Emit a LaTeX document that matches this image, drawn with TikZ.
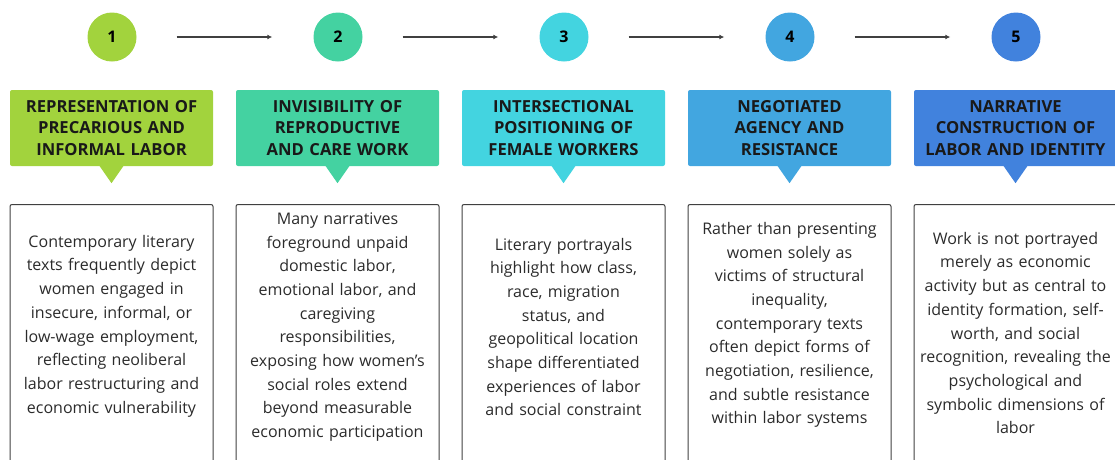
\documentclass[tikz,border=0pt]{standalone}
\usepackage{fontspec}
\setmainfont{Open Sans}
\usepackage{tikz}
\usetikzlibrary{arrows.meta}
\definecolor{stepA}{HTML}{A2D33D}
\definecolor{stepB}{HTML}{44D2A1}
\definecolor{stepC}{HTML}{43D4E0}
\definecolor{stepD}{HTML}{42A6E0}
\definecolor{stepE}{HTML}{4182DD}
\definecolor{inkgray}{HTML}{2B2B2B}
\tikzset{
  num/.style={circle, minimum size=49pt, inner sep=0pt, font=\fontsize{16}{18}\selectfont\bfseries, text=black},
  head/.style={rounded corners=2pt, minimum width=203pt, minimum height=76pt, inner sep=0pt,
    text width=203pt, align=center, text=black!90,
    font=\fontsize{16.6}{21.3}\selectfont\bfseries},
  card/.style={draw=black!75, line width=1pt, rounded corners=2pt, anchor=north,
    minimum width=203pt, minimum height=290pt, inner sep=0pt},
  body/.style={text width=203pt, align=center, inner sep=0pt, text=inkgray,
    font=\fontsize{16}{23.7}\selectfont},
  flow/.style={draw=black!75, line width=1.3pt, -{Latex[length=5pt,width=5pt]}}
}
\begin{document}
\begin{tikzpicture}[x=1pt,y=-1pt]
    \useasboundingbox (0,0) rectangle (1115,459);
    \clip (0,0) rectangle (1115,459);
    % numbered steps
    \node[num, fill=stepA] (n1) at (112,37) {1};
    \node[num, fill=stepB] (n2) at (338,37) {2};
    \node[num, fill=stepC] (n3) at (564,37) {3};
    \node[num, fill=stepD] (n4) at (790,37) {4};
    \node[num, fill=stepE] (n5) at (1016,37) {5};
    \draw[flow, shorten <=40pt, shorten >=41pt] (n1) -- (n2);
    \draw[flow, shorten <=40pt, shorten >=41pt] (n2) -- (n3);
    \draw[flow, shorten <=40pt, shorten >=41pt] (n3) -- (n4);
    \draw[flow, shorten <=40pt, shorten >=41pt] (n4) -- (n5);
    % headings
    \node[head, fill=stepA] (h1) at (111.5,128) {REPRESENTATION OF\\PRECARIOUS AND\\INFORMAL LABOR};
    \node[head, fill=stepB] (h2) at (337.5,128) {INVISIBILITY OF\\REPRODUCTIVE\\AND CARE WORK};
    \node[head, fill=stepC] (h3) at (563.5,128) {INTERSECTIONAL\\POSITIONING OF\\FEMALE WORKERS};
    \node[head, fill=stepD] (h4) at (789.5,128) {NEGOTIATED\\AGENCY AND\\RESISTANCE};
    \node[head, fill=stepE] (h5) at (1015.5,128) {NARRATIVE\\CONSTRUCTION OF\\LABOR AND IDENTITY};
    \fill[stepA] ([xshift=-12.5pt,yshift=1pt]h1.south) -- ([yshift=-17pt]h1.south) -- ([xshift=12.5pt,yshift=1pt]h1.south) -- cycle;
    \fill[stepB] ([xshift=-12.5pt,yshift=1pt]h2.south) -- ([yshift=-17pt]h2.south) -- ([xshift=12.5pt,yshift=1pt]h2.south) -- cycle;
    \fill[stepC] ([xshift=-12.5pt,yshift=1pt]h3.south) -- ([yshift=-17pt]h3.south) -- ([xshift=12.5pt,yshift=1pt]h3.south) -- cycle;
    \fill[stepD] ([xshift=-12.5pt,yshift=1pt]h4.south) -- ([yshift=-17pt]h4.south) -- ([xshift=12.5pt,yshift=1pt]h4.south) -- cycle;
    \fill[stepE] ([xshift=-12.5pt,yshift=1pt]h5.south) -- ([yshift=-17pt]h5.south) -- ([xshift=12.5pt,yshift=1pt]h5.south) -- cycle;
    % text cards
    \node[card] (c1) at (111.5,204) {};
    \node[card] (c2) at (337.5,204) {};
    \node[card] (c3) at (563.5,204) {};
    \node[card] (c4) at (789.5,204) {};
    \node[card] (c5) at (1015.5,204) {};
    \node[body] (t1) at (111.5,326) {Contemporary literary\\texts frequently depict\\women engaged in\\insecure, informal, or\\low-wage employment,\\reflecting neoliberal\\labor restructuring and\\economic vulnerability};
    \node[body] (t2) at (337.5,327) {Many narratives\\foreground unpaid\\domestic labor,\\emotional labor, and\\caregiving\\responsibilities,\\exposing how women’s\\social roles extend\\beyond measurable\\economic participation};
    \node[body] (t3) at (563.5,327) {Literary portrayals\\highlight how class,\\race, migration\\status, and\\geopolitical location\\shape differentiated\\experiences of labor\\and social constraint};
    \node[body] (t4) at (789.5,325) {Rather than presenting\\women solely as\\victims of structural\\inequality,\\contemporary texts\\often depict forms of\\negotiation, resilience,\\and subtle resistance\\within labor systems};
    \node[body] (t5) at (1015.5,333) {Work is not portrayed\\merely as economic\\activity but as central to\\identity formation, self-\\worth, and social\\recognition, revealing the\\psychological and\\symbolic dimensions of\\labor};
\end{tikzpicture}
\end{document}
